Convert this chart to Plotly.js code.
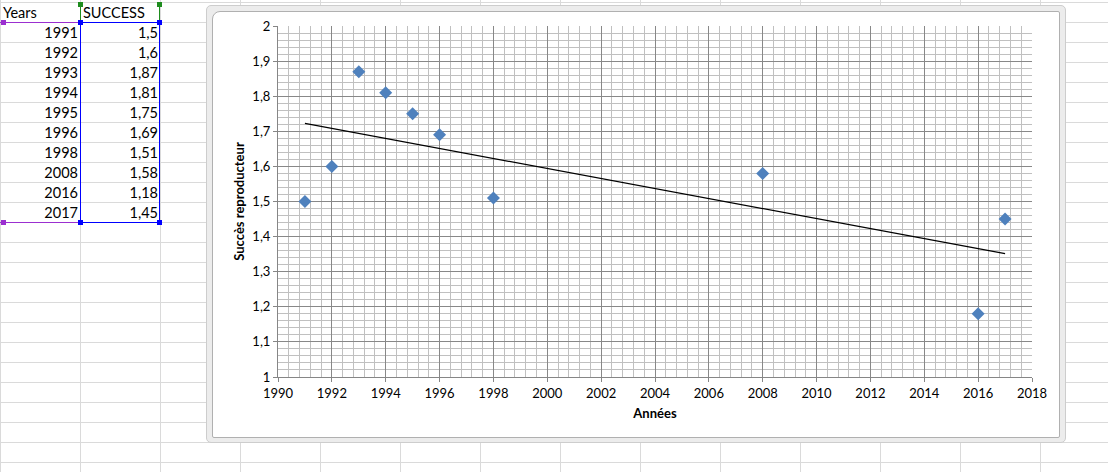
<!DOCTYPE html>
<html>
<head>
<meta charset="utf-8">
<script src="https://cdn.plot.ly/plotly-3.0.1.min.js"></script>
<style>
  html, body { margin:0; padding:0; }
  body {
    width:1108px; height:472px; overflow:hidden; position:relative;
    background-color:#ffffff;
    background-image:
      linear-gradient(to right, #dadada 1px, transparent 1px),
      linear-gradient(to bottom, #dadada 1px, transparent 1px);
    background-size:80px 20px;
    background-position:0px 2px;
    font-family: Lato, "Open Sans", sans-serif;
  }
  .cell { position:absolute; height:20px; line-height:20px; font-size:14.5px; color:#000; white-space:nowrap; }
  .abs { position:absolute; }
  #frame { position:absolute; left:206px; top:5px; width:858px; height:436px;
           background:#ececec; border:1px solid #cdcdcd; border-radius:5px; }
  #inner { position:absolute; left:212px; top:11px; width:846px; height:425px;
           background:#ffffff; border:1px solid #b0b0b0; border-radius:8px 2px 2px 2px; }
  #chart { position:absolute; left:212px; top:11px; width:848px; height:427px; }
</style>
</head>
<body>
<div id="sheet"></div>
<div id="frame"></div>
<div id="inner"></div>
<div id="chart"></div>
<script>
// ---- data ----
const headerYears = "Years";
const headerSuccess = "SUCCESS";
const years = [1991, 1992, 1993, 1994, 1995, 1996, 1998, 2008, 2016, 2017];
const success = [1.5, 1.6, 1.87, 1.81, 1.75, 1.69, 1.51, 1.58, 1.18, 1.45];
const xTickVals = [1990,1992,1994,1996,1998,2000,2002,2004,2006,2008,2010,2012,2014,2016,2018];
const yTickVals = [1,1.1,1.2,1.3,1.4,1.5,1.6,1.7,1.8,1.9,2];
const xTitle = "Années";
const yTitle = "Succès reproducteur";

// ---- spreadsheet ----
const sheet = document.getElementById('sheet');
function addCell(text, left, top, width, align) {
  const d = document.createElement('div');
  d.className = 'cell';
  d.style.left = left + 'px'; d.style.top = top + 'px'; d.style.width = width + 'px';
  d.style.textAlign = align;
  d.textContent = text;
  sheet.appendChild(d);
}
function addBox(left, top, w, h, color) {
  const d = document.createElement('div');
  d.className = 'abs';
  d.style.left = left + 'px'; d.style.top = top + 'px';
  d.style.width = w + 'px'; d.style.height = h + 'px';
  d.style.background = color;
  sheet.appendChild(d);
}
addCell(headerYears, 3, 3, 76, 'left');
addCell(headerSuccess, 83, 3, 76, 'left');
years.forEach((y, i) => {
  addCell(String(y), 0, 23 + 20 * i, 78, 'right');
  addCell(String(success[i]).replace('.', ','), 80, 23 + 20 * i, 78, 'right');
});
const rowsBottom = 22 + 20 * years.length;
// purple (Years range)
addBox(0, 22, 80, 1, '#9b2fd0');
addBox(0, rowsBottom, 80, 1, '#9b2fd0');
addBox(1, 20, 5, 5, '#9b2fd0');
addBox(1, rowsBottom - 2, 5, 5, '#9b2fd0');
// green (header)
addBox(80, 3, 1, 19, '#1e8c1e');
addBox(159, 3, 1, 19, '#1e8c1e');
addBox(78, 2, 5, 5, '#1e8c1e');
addBox(157, 2, 5, 5, '#1e8c1e');
// blue (values range)
addBox(80, 22, 80, 1, '#0000ff');
addBox(80, rowsBottom, 80, 1, '#0000ff');
addBox(80, 22, 1, rowsBottom - 22, '#0000ff');
addBox(159, 22, 1, rowsBottom - 22, '#0000ff');
addBox(78, 20, 5, 5, '#0000ff');
addBox(157, 20, 5, 5, '#0000ff');
addBox(78, rowsBottom - 2, 5, 5, '#0000ff');
addBox(157, rowsBottom - 2, 5, 5, '#0000ff');

// ---- trend line (least squares from the data) ----
const n = years.length;
const mx = years.reduce((a, b) => a + b, 0) / n;
const my = success.reduce((a, b) => a + b, 0) / n;
let sxy = 0, sxx = 0;
for (let i = 0; i < n; i++) { sxy += (years[i] - mx) * (success[i] - my); sxx += (years[i] - mx) ** 2; }
const slope = sxy / sxx, icpt = my - slope * mx;
const xMin = Math.min(...years), xMax = Math.max(...years);
const trendX = [xMin, xMax];
const trendY = trendX.map(x => icpt + slope * x);

const font = "Lato, 'Open Sans', sans-serif";
const data = [
  { x: trendX, y: trendY, type: 'scatter', mode: 'lines',
    line: { color: '#000000', width: 1.2 }, hoverinfo: 'skip', showlegend: false },
  { x: years, y: success, type: 'scatter', mode: 'markers',
    marker: { symbol: 'diamond', size: 10, color: '#4f81bd', line: { width: 0 } }, showlegend: false }
];
const layout = {
  width: 848, height: 427,
  margin: { l: 66, r: 28, t: 15, b: 61 },
  paper_bgcolor: 'rgba(0,0,0,0)', plot_bgcolor: '#ffffff',
  separators: ', ',
  font: { family: font, size: 13, color: '#000000' },
  showlegend: false,
  xaxis: {
    range: [1990, 2018], tickvals: xTickVals, ticktext: xTickVals.map(String),
    showgrid: true, gridcolor: '#888888', gridwidth: 1,
    minor: { dtick: 0.4, tick0: 1990, showgrid: true, gridcolor: '#c0c0c0', gridwidth: 1, ticks: '' },
    showline: true, linecolor: '#868686', linewidth: 1,
    ticks: 'outside', ticklen: 4, tickcolor: '#868686',
    zeroline: false, fixedrange: true,
    tickfont: { family: font, size: 13, color: '#000' },
    title: { text: xTitle, font: { family: font, size: 13, color: '#000', weight: 'bold' }, standoff: 9 }
  },
  yaxis: {
    range: [1, 2], tickvals: yTickVals, ticktext: yTickVals.map(v => String(v).replace('.', ',')),
    showgrid: true, gridcolor: '#888888', gridwidth: 1,
    minor: { dtick: 0.02, tick0: 1, showgrid: true, gridcolor: '#c0c0c0', gridwidth: 1, ticks: '' },
    showline: true, linecolor: '#868686', linewidth: 1,
    ticks: 'outside', ticklen: 4, tickcolor: '#868686',
    zeroline: false, fixedrange: true,
    tickfont: { family: font, size: 13, color: '#000' },
    title: { text: yTitle, font: { family: font, size: 13, color: '#000', weight: 'bold' }, standoff: 4 }
  }
};
Plotly.newPlot('chart', data, layout, { displayModeBar: false, staticPlot: true });
</script>
</body>
</html>
